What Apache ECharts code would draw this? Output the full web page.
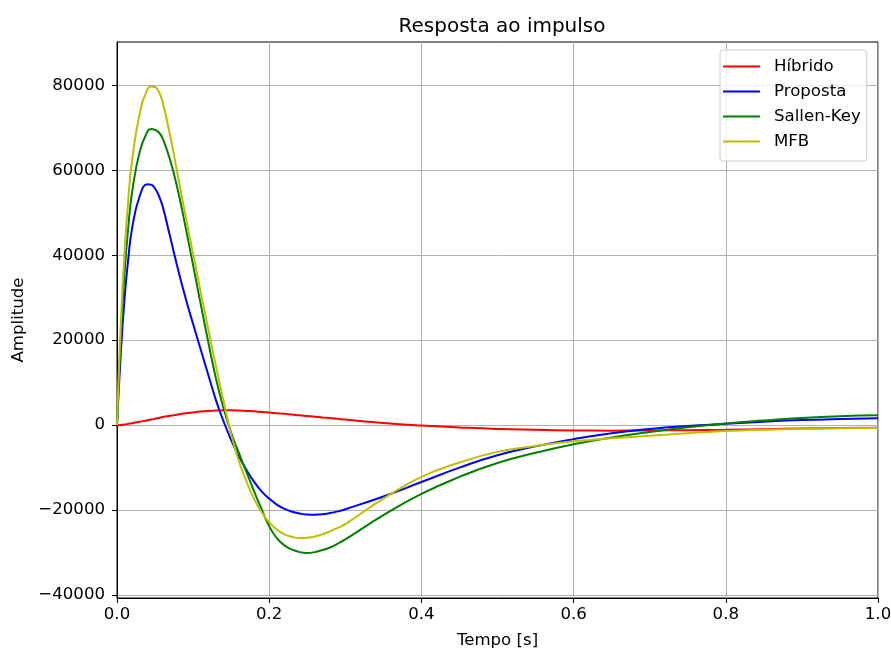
<!DOCTYPE html>
<html>
<head>
<meta charset="utf-8">
<script src="https://cdn.jsdelivr.net/npm/echarts@6/dist/echarts.min.js"></script>
<style>
  html, body { margin: 0; padding: 0; background: #fff; }
  #chart { width: 891px; height: 650px; }
</style>
</head>
<body>
<div id="chart"></div>
<script>
// tempo [s]
const tempo = [0, 0.005, 0.01, 0.015, 0.02, 0.03, 0.04, 0.045, 0.05, 0.055,
  0.06, 0.07, 0.08, 0.09, 0.1, 0.11, 0.12, 0.13, 0.14, 0.15, 0.16, 0.17, 0.18, 0.19, 0.2,
  0.21, 0.22, 0.23, 0.24, 0.25, 0.26, 0.27, 0.28, 0.29, 0.3,
  0.35, 0.4, 0.45, 0.5, 0.55, 0.6, 0.65, 0.7, 0.75, 0.8, 0.85, 0.9, 0.95, 1.0];

const hibrido = [0, 50, 150, 300, 450, 800, 1150, 1300, 1500, 1700,
  1900, 2200, 2500, 2800, 3000, 3200, 3350, 3450, 3500, 3500, 3450, 3350, 3250, 3100, 2950,
  2800, 2650, 2480, 2300, 2150, 2000, 1820, 1650, 1480, 1300,
  500, -100, -550, -900, -1100, -1250, -1300, -1250, -1200, -1100, -950, -800, -700, -600];

const proposta = [0, 17000, 30000, 39500, 46500, 54000, 56700, 56600, 55700, 54000,
  51500, 44200, 36800, 30000, 23800, 17800, 11800, 5900, 900, -3500, -7300, -10500, -13300, -15600, -17300,
  -18700, -19700, -20400, -20800, -21050, -21100, -21000, -20700, -20300, -19800,
  -16800, -13400, -10000, -7100, -5000, -3300, -1900, -900, -200, 300, 800, 1200, 1450, 1600];

const sallenKey = [0, 21000, 36000, 47000, 55000, 64500, 69100, 69700, 69500, 68900,
  67500, 62300, 55300, 46700, 37600, 28500, 19500, 11000, 4000, -1800, -6500, -11000, -15500, -19800, -23800,
  -26600, -28300, -29300, -29900, -30100, -29900, -29400, -28800, -27900, -26900,
  -21200, -16200, -12200, -8900, -6500, -4500, -2900, -1600, -500, 400, 1100, 1700, 2100, 2300];

const mfb = [0, 24000, 41000, 53500, 62500, 73500, 79000, 79700, 79600, 78500,
  76000, 68000, 58700, 49300, 40300, 31300, 22500, 13900, 5700, -2200, -8400, -13200, -17300, -20500, -22900,
  -24600, -25700, -26300, -26600, -26500, -26200, -25700, -25000, -24200, -23300,
  -17300, -12200, -8800, -6300, -4900, -3800, -3100, -2500, -1900, -1400, -1100, -900, -750, -650];

const yTicks = [-40000, -20000, 0, 20000, 40000, 60000, 80000];
const xTicks = [0, 0.2, 0.4, 0.6, 0.8, 1.0];

const font = 'DejaVu Sans';
const pair = arr => tempo.map((t, i) => [t, arr[i]]);
const minus = s => String(s).replace('-', '\u2212');

const serie = (name, data, color) => ({
  name,
  type: 'line',
  data: pair(data),
  smooth: 0.5,
  symbol: 'none',
  lineStyle: { color, width: 2 },
  itemStyle: { color },
  z: 3,
});

const chart = echarts.init(document.getElementById('chart'));
chart.setOption({
  animation: false,
  backgroundColor: '#fff',
  title: {
    text: 'Resposta ao impulso',
    left: 497,
    top: 12,
    textAlign: 'center',
    textStyle: { fontFamily: font, fontSize: 20, fontWeight: 'normal', color: '#000' },
  },
  grid: {
    left: 117, right: 13, top: 42, bottom: 52,
    outerBoundsMode: 'none',
    containLabel: false,
    show: true, borderColor: '#000', borderWidth: 1,
  },
  legend: {
    orient: 'vertical',
    left: 720,
    top: 50,
    padding: [8, 6, 11, 3],
    itemWidth: 37,
    itemHeight: 2,
    itemGap: 8,
    icon: 'rect',
    backgroundColor: 'rgba(255,255,255,0.8)',
    borderColor: '#cccccc',
    borderWidth: 1,
    borderRadius: 3,
    textStyle: { fontFamily: font, fontSize: 16.6, color: '#000', padding: [0, 0, 0, 9] },
    data: ['Híbrido', 'Proposta', 'Sallen-Key', 'MFB'],
  },
  xAxis: {
    type: 'value',
    min: 0,
    max: 1,
    interval: 0.2,
    name: 'Tempo [s]',
    nameLocation: 'middle',
    nameGap: 34,
    nameTextStyle: { fontFamily: font, fontSize: 16.6, color: '#000' },
    axisLine: { onZero: false, lineStyle: { color: '#000', width: 1 } },
    axisTick: { show: true, inside: false, length: 5, lineStyle: { color: '#000' }, customValues: xTicks },
    axisLabel: {
      fontFamily: font, fontSize: 16.6, color: '#000', margin: 8,
      customValues: xTicks,
      formatter: v => v.toFixed(1),
    },
    splitLine: { show: true, lineStyle: { color: '#b0b0b0', width: 1 } },
  },
  yAxis: {
    type: 'value',
    min: -40700,
    max: 90200,
    name: 'Amplitude',
    nameLocation: 'middle',
    nameGap: 90,
    nameTextStyle: { fontFamily: font, fontSize: 16.6, color: '#000' },
    axisLine: { show: true, lineStyle: { color: '#000', width: 1 } },
    axisTick: { show: true, inside: false, length: 5, lineStyle: { color: '#000' }, customValues: yTicks },
    axisLabel: {
      fontFamily: font, fontSize: 16.6, color: '#000', margin: 12,
      customValues: yTicks,
      formatter: v => minus(v),
    },
    splitLine: { show: true, lineStyle: { color: '#b0b0b0', width: 1 } },
  },
  series: [
    serie('Híbrido', hibrido, '#ff0000'),
    serie('Proposta', proposta, '#0000ff'),
    serie('Sallen-Key', sallenKey, '#008000'),
    serie('MFB', mfb, '#bfbf00'),
  ],
});
</script>
</body>
</html>
